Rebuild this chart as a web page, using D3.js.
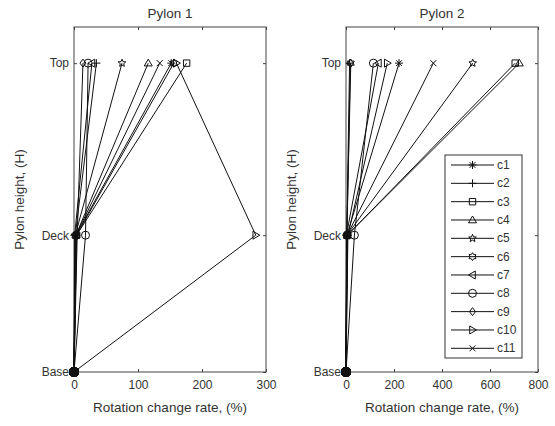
<!DOCTYPE html>
<html><head><meta charset="utf-8">
<script src="https://cdn.jsdelivr.net/npm/d3@7"></script>
<style>body{margin:0;background:#fff}svg{display:block}text{font-family:"Liberation Sans",Arial,sans-serif;fill:#333}</style>
</head><body><svg id="c" width="555" height="426"></svg>
<script>
const series = ["c1","c2","c3","c4","c5","c6","c7","c8","c9","c10","c11"];
const markers = ["asterisk","plus","square","triUp","star","hexagram","triLeft","circle","diamond","triRight","cross"];
const levels = ["Base","Deck","Top"];
const levelValues = [0, 0.443, 1];
const p1Base = [0,0,0,0,0,0,0,0,0,0,0];
const p1Deck = [3, 2, 4, 3, 2, 4, 1, 18, 5, 284, 3];
const p1Top  = [152, 35, 176, 116, 75, 156, 28, 22, 14, 160, 134];
const p2Base = [0,0,0,0,0,0,0,0,0,0,0];
const p2Deck = [4, 3, 6, 5, 4, 3, 2, 35, 4, 8, 5];
const p2Top  = [221, 15, 705, 722, 528, 20, 135, 114, 18, 172, 364];
const p1Ticks = [0,100,200,300];
const p2Ticks = [0,200,400,600,800];

const svg = d3.select("#c");
const yDomain = [0, 1.117];

function markerPath(type, s) {
  const r = s/2;
  const p = d3.path();
  switch(type){
    case "asterisk":
      p.moveTo(-r,0);p.lineTo(r,0);p.moveTo(0,-r);p.lineTo(0,r);
      const q=r*0.72;p.moveTo(-q,-q);p.lineTo(q,q);p.moveTo(-q,q);p.lineTo(q,-q);break;
    case "plus": p.moveTo(-r,0);p.lineTo(r,0);p.moveTo(0,-r);p.lineTo(0,r);break;
    case "cross": {const k=r*0.75;p.moveTo(-k,-k);p.lineTo(k,k);p.moveTo(-k,k);p.lineTo(k,-k);break;}
    case "square": {const k=r*0.8;p.rect(-k,-k,2*k,2*k);break;}
    case "circle": p.moveTo(r,0);p.arc(0,0,r,0,2*Math.PI);break;
    case "diamond": p.moveTo(0,-r);p.lineTo(r*0.75,0);p.lineTo(0,r);p.lineTo(-r*0.75,0);p.closePath();break;
    case "triUp": p.moveTo(0,-r);p.lineTo(r,r*0.7);p.lineTo(-r,r*0.7);p.closePath();break;
    case "triLeft": p.moveTo(-r,0);p.lineTo(r*0.7,-r);p.lineTo(r*0.7,r);p.closePath();break;
    case "triRight": p.moveTo(r,0);p.lineTo(-r*0.7,-r);p.lineTo(-r*0.7,r);p.closePath();break;
    case "star": {
      for(let i=0;i<10;i++){const a=-Math.PI/2+i*Math.PI/5;const rr=i%2?r*0.45:r;
        const x=rr*Math.cos(a),y=rr*Math.sin(a); i?p.lineTo(x,y):p.moveTo(x,y);} p.closePath();break;}
    case "hexagram": {
      for(let i=0;i<12;i++){const a=-Math.PI/2+i*Math.PI/6;const rr=i%2?r*0.6:r;
        const x=rr*Math.cos(a),y=rr*Math.sin(a); i?p.lineTo(x,y):p.moveTo(x,y);} p.closePath();break;}
  }
  return p.toString();
}

function panel(opts){
  const {x0,x1,yTop,yBot,xmax,ticks,title,base,deck,top,legend} = opts;
  const x = d3.scaleLinear().domain([0,xmax]).range([x0,x1]);
  const y = d3.scaleLinear().domain(yDomain).range([yBot,yTop]);
  const g = svg.append("g");
  g.append("rect").attr("x",x0).attr("y",yTop).attr("width",x1-x0).attr("height",yBot-yTop)
    .attr("fill","none").attr("stroke","#444").attr("stroke-width",1);
  const xb = g.append("g").attr("transform",`translate(0,${yBot})`)
    .call(d3.axisBottom(x).tickValues(ticks).tickSize(-3).tickPadding(8));
  const xt = g.append("g").attr("transform",`translate(0,${yTop})`)
    .call(d3.axisTop(x).tickValues(ticks).tickSize(-3).tickFormat(""));
  const yl = g.append("g").attr("transform",`translate(${x0},0)`)
    .call(d3.axisLeft(y).tickValues(levelValues).tickSize(-3).tickPadding(5).tickFormat((d,i)=>levels[i]));
  const yr = g.append("g").attr("transform",`translate(${x1},0)`)
    .call(d3.axisRight(y).tickValues(levelValues).tickSize(-3).tickFormat(""));
  [xb,xt,yl,yr].forEach(a=>{a.select(".domain").remove();a.selectAll("line").attr("stroke","#444");
    a.selectAll("text").attr("font-size",12).attr("fill","#333").attr("font-family","Liberation Sans, Arial, sans-serif");});
  g.append("text").attr("x",(x0+x1)/2).attr("y",yTop-9).attr("text-anchor","middle").attr("font-size",13.5).text(title);
  g.append("text").attr("x",(x0+x1)/2).attr("y",412).attr("text-anchor","middle").attr("font-size",13.5)
    .text("Rotation change rate, (%)");
  g.append("text").attr("transform",`translate(${x0-50},${(yTop+yBot)/2}) rotate(-90)`).attr("text-anchor","middle")
    .attr("font-size",13.5).text("Pylon height, (H)");
  const line = d3.line().x(d=>x(d[0])).y(d=>y(d[1]));
  series.forEach((s,i)=>{
    const pts=[[base[i],levelValues[0]],[deck[i],levelValues[1]],[top[i],levelValues[2]]];
    g.append("path").attr("d",line(pts)).attr("fill","none").attr("stroke","#111").attr("stroke-width",1);
    pts.forEach(p=>{
      g.append("path").attr("d",markerPath(markers[i],8)).attr("transform",`translate(${x(p[0])},${y(p[1])})`)
        .attr("fill","none").attr("stroke","#111").attr("stroke-width",1);
    });
  });
  // shared base point: solid dot
  base.forEach(b=>{
    g.append("circle").attr("cx",x(b)).attr("cy",y(levelValues[0])).attr("r",5).attr("fill","#111");
  });
  if(legend){
    const lx=445, ly=155, lw=77, lh=203;
    const lg = g.append("g");
    lg.append("rect").attr("x",lx).attr("y",ly).attr("width",lw).attr("height",lh)
      .attr("fill","#fff").attr("stroke","#333").attr("stroke-width",1);
    series.forEach((s,i)=>{
      const yy = 165 + i*18.33;
      lg.append("line").attr("x1",451).attr("x2",494).attr("y1",yy).attr("y2",yy).attr("stroke","#111");
      lg.append("path").attr("d",markerPath(markers[i],8)).attr("transform",`translate(472.5,${yy})`)
        .attr("fill","none").attr("stroke","#111").attr("stroke-width",1);
      lg.append("text").attr("x",497).attr("y",yy+4).attr("font-size",12).text(s);
    });
  }
}

panel({x0:74,x1:266,yTop:27,yBot:372,xmax:300,ticks:p1Ticks,title:"Pylon 1",base:p1Base,deck:p1Deck,top:p1Top,legend:false});
panel({x0:346,x1:538,yTop:27,yBot:372,xmax:800,ticks:p2Ticks,title:"Pylon 2",base:p2Base,deck:p2Deck,top:p2Top,legend:true});
</script></body></html>
